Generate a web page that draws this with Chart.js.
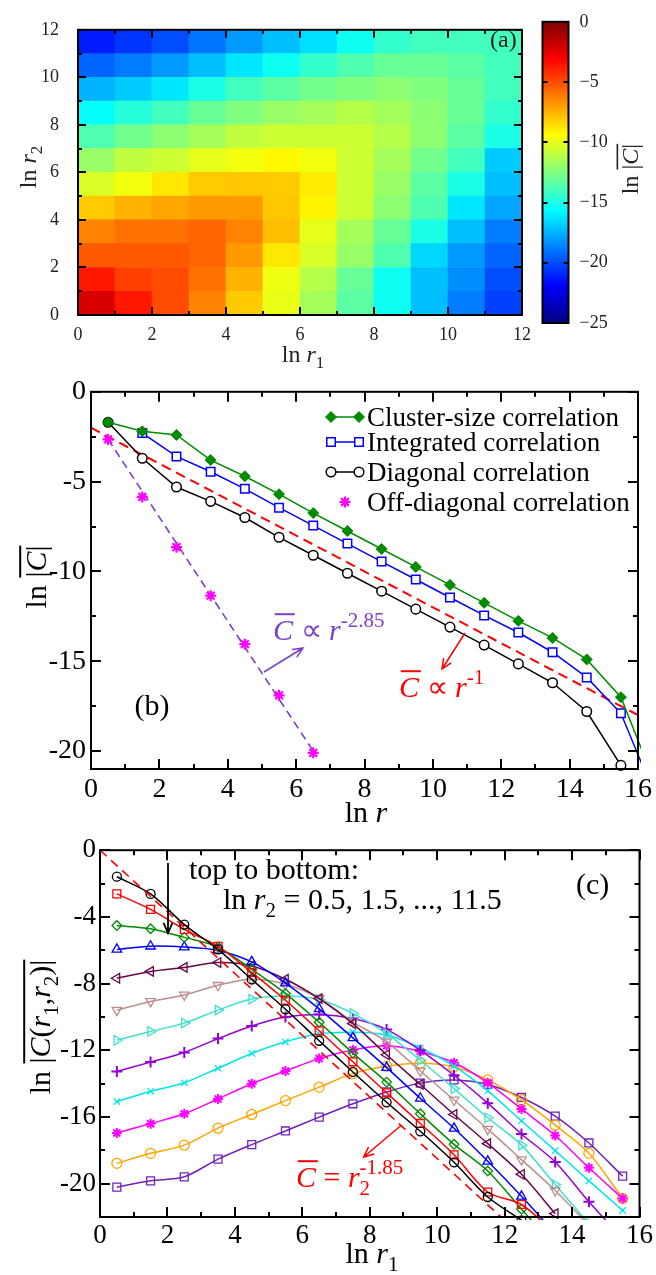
<!DOCTYPE html>
<html>
<head>
<meta charset="utf-8">
<script src="https://cdn.jsdelivr.net/npm/chart.js@4.4.1/dist/chart.umd.min.js"></script>
<style>
  body { margin: 0; background: #fff; }
  #wrap { position: relative; width: 656px; height: 1275px; overflow: hidden; }
  canvas { position: absolute; }
</style>
</head>
<body>
<div id="wrap">
  <canvas id="heatChart" width="540" height="370" style="left:0;top:0"></canvas>
  <canvas id="barChart" width="116" height="370" style="left:540px;top:0"></canvas>
  <canvas id="diagChart" width="656" height="460" style="left:0;top:370px"></canvas>
  <canvas id="pairChart" width="656" height="445" style="left:0;top:830px"></canvas>
</div>
<script>
// ---------------- data ----------------

// (a) ln|C| on a 12x12 grid, row k = ln r2 in [k,k+1], column j = ln r1 in [j,j+1]
const heatTicks = [0, 2, 4, 6, 8, 10, 12];
const colorbarTicks = [0, -5, -10, -15, -20, -25];
const cMin = -25, cMax = 0;
const heatRows = [
  [-2.2, -3.7, -5.0, -6.3, -8.1, -9.9, -11.6, -13.4, -15.3, -17.2, -18.8, -20.3],
  [-3.7, -4.7, -5.0, -5.9, -7.5, -9.8, -11.2, -13.1, -15.3, -17.2, -18.4, -20.0],
  [-5.3, -5.3, -5.3, -5.6, -6.9, -8.8, -10.3, -11.9, -13.7, -16.6, -18.1, -19.4],
  [-6.3, -5.9, -5.9, -5.6, -6.3, -7.8, -10.0, -11.6, -13.1, -15.0, -17.2, -18.8],
  [-8.1, -7.5, -7.2, -6.9, -6.9, -8.0, -9.1, -10.6, -12.2, -13.7, -16.2, -17.8],
  [-10.3, -9.7, -8.8, -8.1, -8.0, -8.1, -8.9, -10.6, -11.9, -13.4, -15.0, -17.2],
  [-11.9, -10.9, -10.6, -10.0, -9.7, -9.2, -9.7, -10.6, -11.6, -12.8, -14.0, -16.9],
  [-13.7, -12.8, -12.2, -11.6, -10.9, -10.6, -10.6, -10.6, -11.2, -12.2, -13.4, -15.0],
  [-15.5, -14.7, -14.0, -13.1, -12.5, -11.9, -11.6, -11.2, -11.6, -12.2, -13.1, -14.4],
  [-17.5, -16.9, -16.2, -15.0, -14.0, -13.4, -12.8, -12.5, -12.2, -12.5, -13.1, -14.0],
  [-19.4, -18.8, -18.1, -17.2, -16.2, -15.3, -14.4, -13.7, -13.1, -13.1, -13.4, -14.0],
  [-21.2, -20.6, -20.0, -19.0, -18.1, -17.2, -16.4, -15.3, -14.4, -14.0, -14.0, -14.0]
];

// (b) ln C versus ln r
const lnR = [0.5, 1.5, 2.5, 3.5, 4.5, 5.5, 6.5, 7.5, 8.5, 9.5, 10.5, 11.5, 12.5, 13.5, 14.5, 15.5, 16.5];
const clusterSize = [-1.7, -2.2, -2.4, -3.8, -4.7, -5.7, -6.75, -7.75, -8.75, -9.75, -10.75, -11.75, -12.75, -13.7, -14.9, -17.0, -21.8];
const integrated = [null, -2.3, -3.6, -4.45, -5.4, -6.45, -7.45, -8.45, -9.45, -10.45, -11.45, -12.45, -13.4, -14.5, -15.9, -17.9, -22.5];
const diagonal = [-1.7, -3.7, -5.3, -6.1, -7.0, -8.1, -9.1, -10.1, -11.1, -12.1, -13.1, -14.1, -15.15, -16.2, -17.8, -20.8, null];
const offDiagR = [0.5, 1.5, 2.5, 3.5, 4.5, 5.5, 6.5];
const offDiagonal = [-2.65, -5.85, -8.65, -11.35, -14.05, -16.9, -20.1];
const fitR1 = [0, 16];
const fitC1 = [-2.0, -18.0];
const fitR285 = [0.5, 6.5];
const fitC285 = [-2.65, -20.0];
const bTicksX = [0, 2, 4, 6, 8, 10, 12, 14, 16];
const bTicksY = [0, -5, -10, -15, -20];

// (c) ln C(r1,r2) versus ln r1, one curve per ln r2
const lnR1 = [0.5, 1.5, 2.5, 3.5, 4.5, 5.5, 6.5, 7.5, 8.5, 9.5, 10.5, 11.5, 12.5, 13.5, 14.5, 15.5];
const r2_05  = [-1.59, -2.62, -4.46, -5.95, -7.75, -9.54, -11.43, -13.3, -15.12, -16.86, -18.72, -20.8, -22.2];
const r2_15  = [-2.62, -3.55, -4.75, -5.77, -7.33, -9.0, -10.83, -12.69, -14.55, -16.39, -18.27, -20.5, -21.25, -23.0];
const r2_25  = [-4.52, -4.71, -5.23, -5.81, -7.15, -8.6, -10.32, -12.17, -13.91, -15.81, -17.64, -19.24, -21.53, -23.8];
const r2_35  = [-5.95, -5.76, -5.81, -6.01, -6.7, -7.97, -9.52, -11.26, -13.04, -14.88, -16.68, -18.66, -20.76, -23.0];
const r2_45  = [-7.68, -7.27, -7.03, -6.74, -6.94, -7.74, -8.9, -10.4, -12.27, -14.05, -15.85, -17.6, -19.44, -21.8];
const r2_55  = [-9.59, -9.07, -8.68, -8.10, -7.74, -8.04, -8.88, -10.3, -11.49, -13.24, -14.98, -16.73, -18.56, -20.41, -22.5];
const r2_65  = [-11.40, -10.87, -10.37, -9.59, -8.93, -8.74, -8.95, -9.79, -11.0, -12.6, -14.30, -16.05, -17.69, -20.06, -22.4];
const r2_75  = [-13.27, -12.71, -12.13, -11.30, -10.54, -10.0, -9.85, -10.1, -10.76, -12.0, -13.5, -15.17, -17.02, -18.70, -21.09, -23.3];
const r2_85  = [-15.08, -14.46, -13.95, -13.08, -12.19, -11.49, -11.01, -10.92, -11.08, -11.85, -12.95, -14.44, -16.24, -18.02, -19.83, -21.61];
const r2_95  = [-16.96, -16.40, -15.81, -14.92, -14.01, -13.24, -12.50, -11.98, -11.73, -12.07, -12.75, -13.95, -15.52, -17.11, -19.05, -20.89];
const r2_105 = [-18.78, -18.18, -17.69, -16.67, -15.85, -15.02, -14.21, -13.4, -12.96, -12.78, -13.0, -13.78, -14.98, -16.49, -18.18, -20.89];
const r2_115 = [-20.21, -19.83, -19.59, -18.53, -17.66, -16.84, -16.01, -15.21, -14.50, -13.97, -13.78, -14.05, -14.83, -15.95, -17.56, -19.55];
const fitRc = [0, 12.2];
const fitCc = [0, -22.57];
const cTicksX = [0, 2, 4, 6, 8, 10, 12, 14, 16];
const cTicksY = [0, -4, -8, -12, -16, -20];

// ---------------- helpers ----------------
const SERIF = '"Liberation Serif", "Times New Roman", serif';

function jetColor(v) {
  const t = (v - cMin) / (cMax - cMin);
  const f = c => Math.round(255 * Math.max(0, Math.min(1, 1.5 - Math.abs(4 * t - c))));
  return `rgb(${f(3)},${f(2)},${f(1)})`;
}

function xy(xs, ys) {
  const out = [];
  ys.forEach((y, i) => { if (y !== null && y !== undefined) out.push({ x: xs[i], y: y }); });
  return out;
}

// parts: {t, i: italic, b: subscript, p: superscript, o: overline, k: don't advance (stack sub/sup)}
function richText(ctx, parts, x, y, size, opts) {
  opts = opts || {};
  const fontOf = p => `${p.i ? 'italic ' : ''}${(p.b || p.p) ? Math.round(size * 0.7) : size}px ${SERIF}`;
  ctx.save();
  ctx.translate(x, y);
  if (opts.rotate) ctx.rotate(opts.rotate);
  ctx.fillStyle = ctx.strokeStyle = opts.color || '#000';
  ctx.textBaseline = 'alphabetic';
  ctx.textAlign = 'left';
  const widths = parts.map(p => { ctx.font = fontOf(p); return ctx.measureText(p.t).width; });
  const total = parts.reduce((s, p, i) => s + (p.k ? 0 : widths[i]), 0);
  let cx = opts.align === 'left' ? 0 : -total / 2;
  let olStart = null, olEnd = null;
  parts.forEach((p, i) => {
    ctx.font = fontOf(p);
    const dy = p.b ? size * 0.25 : (p.p ? -size * 0.42 : 0);
    ctx.fillText(p.t, cx, dy);
    if (p.o) {
      const shift = p.i ? size * 0.06 : 0;
      if (olStart === null) olStart = cx + shift;
      olEnd = cx + widths[i] + shift;
    }
    if (!p.k) cx += widths[i];
  });
  if (olStart !== null) {
    ctx.lineWidth = Math.max(1, size / 15);
    ctx.beginPath();
    ctx.moveTo(olStart, -size * 0.86);
    ctx.lineTo(olEnd, -size * 0.86);
    ctx.stroke();
  }
  ctx.restore();
}

function arrow(ctx, x1, y1, x2, y2, color, lw) {
  const a = Math.atan2(y2 - y1, x2 - x1), h = 11, s = 0.42;
  ctx.save();
  ctx.strokeStyle = color;
  ctx.lineWidth = lw;
  ctx.beginPath();
  ctx.moveTo(x1, y1); ctx.lineTo(x2, y2);
  ctx.moveTo(x2 - h * Math.cos(a - s), y2 - h * Math.sin(a - s));
  ctx.lineTo(x2, y2);
  ctx.lineTo(x2 - h * Math.cos(a + s), y2 - h * Math.sin(a + s));
  ctx.stroke();
  ctx.restore();
}

function fixTicks(list) {
  return scale => { scale.ticks = list.map(v => ({ value: v })); };
}

// inward ticks on all four sides + frame
const framePlugin = {
  id: 'frame',
  afterDatasetsDraw(chart, args, o) {
    if (!o || !o.show) return;
    const { ctx, chartArea: a } = chart;
    const x = chart.scales.x, y = chart.scales.y;
    ctx.save();
    ctx.strokeStyle = '#000';
    ctx.lineWidth = o.width;
    const isMajor = (v, m) => Math.abs(v / m - Math.round(v / m)) < 1e-6;
    ctx.beginPath();
    for (let v = Math.ceil(x.min / o.xMinor) * o.xMinor; v <= x.max + 1e-9; v += o.xMinor) {
      const len = isMajor(v, o.xMajor) ? o.major : o.minor;
      const px = Math.round(x.getPixelForValue(v));
      ctx.moveTo(px, a.bottom); ctx.lineTo(px, a.bottom - len);
      ctx.moveTo(px, a.top); ctx.lineTo(px, a.top + len);
    }
    for (let v = Math.ceil(y.min / o.yMinor) * o.yMinor; v <= y.max + 1e-9; v += o.yMinor) {
      const len = isMajor(v, o.yMajor) ? o.major : o.minor;
      const py = Math.round(y.getPixelForValue(v));
      ctx.moveTo(a.left, py); ctx.lineTo(a.left + len, py);
      ctx.moveTo(a.right, py); ctx.lineTo(a.right - len, py);
    }
    ctx.stroke();
    ctx.strokeRect(a.left, a.top, a.width, a.height);
    ctx.restore();
  }
};

const base = {
  responsive: false,
  animation: false,
  devicePixelRatio: 1,
  events: []
};

// ---------------- (a) heat map ----------------
const heatDatasets = heatRows.map((row, k) => ({
  data: row.map((v, j) => ({ x: j + 0.5, y: [k, k + 1] })),
  backgroundColor: row.map(jetColor),
  borderWidth: 0,
  grouped: false,
  barPercentage: 1,
  categoryPercentage: 1
}));

new Chart(document.getElementById('heatChart'), {
  type: 'bar',
  data: { datasets: heatDatasets },
  plugins: [framePlugin, {
    id: 'notesA',
    afterDraw(chart) {
      const ctx = chart.ctx;
      richText(ctx, [{ t: 'ln ' }, { t: 'r', i: 1 }, { t: '1', b: 1 }], 303, 362, 24, { color: '#222' });
      richText(ctx, [{ t: 'ln ' }, { t: 'r', i: 1 }, { t: '2', b: 1 }], 36, 167, 24, { color: '#222', rotate: -Math.PI / 2 });
      richText(ctx, [{ t: '(a)' }], 490, 47, 24, { color: '#222', align: 'left' });
    }
  }],
  options: Object.assign({}, base, {
    layout: { padding: { left: 0, top: 15, right: 10, bottom: 0 } },
    plugins: {
      legend: { display: false }, tooltip: { enabled: false },
      frame: { show: true, xMajor: 2, xMinor: 1, yMajor: 2, yMinor: 1, major: 8, minor: 4, width: 2 }
    },
    scales: {
      x: {
        type: 'linear', min: 0, max: 12, offset: false,
        afterFit: s => { s.height = 55; },
        afterBuildTicks: fixTicks(heatTicks),
        grid: { display: false, drawTicks: false }, border: { display: false },
        ticks: { font: { family: SERIF, size: 18 }, color: '#222', padding: 9, maxRotation: 0, autoSkip: false }
      },
      y: {
        type: 'linear', min: 0, max: 12,
        afterFit: s => { s.width = 78; },
        afterBuildTicks: fixTicks(heatTicks),
        grid: { display: false, drawTicks: false }, border: { display: false },
        ticks: { font: { family: SERIF, size: 18 }, color: '#222', padding: 19 }
      }
    }
  })
});

// colour bar
new Chart(document.getElementById('barChart'), {
  type: 'bar',
  data: { datasets: [] },
  plugins: [{
    id: 'cbar',
    beforeDatasetsDraw(chart) {
      const { ctx, chartArea: a } = chart;
      const g = ctx.createLinearGradient(0, a.bottom, 0, a.top);
      for (let i = 0; i <= 40; i++) g.addColorStop(i / 40, jetColor(cMin + (cMax - cMin) * i / 40));
      ctx.fillStyle = g;
      ctx.fillRect(a.left, a.top, a.width, a.height);
      const y = chart.scales.y;
      ctx.save();
      ctx.strokeStyle = '#000';
      ctx.lineWidth = 2;
      ctx.beginPath();
      colorbarTicks.forEach(v => {
        const py = Math.round(y.getPixelForValue(v));
        ctx.moveTo(a.left, py); ctx.lineTo(a.left + 5, py);
        ctx.moveTo(a.right, py); ctx.lineTo(a.right - 5, py);
      });
      ctx.stroke();
      ctx.strokeRect(a.left, a.top, a.width, a.height);
      ctx.restore();
      richText(ctx, [{ t: 'ln ' }, { t: '|', o: 1 }, { t: 'C', i: 1, o: 1 }, { t: '|', o: 1 }], 98, 169, 24, { color: '#222', rotate: -Math.PI / 2 });
    }
  }],
  options: Object.assign({}, base, {
    layout: { padding: { left: 2.5, top: 15, right: 0, bottom: 47 } },
    plugins: { legend: { display: false }, tooltip: { enabled: false } },
    scales: {
      x: { type: 'linear', display: false, min: 0, max: 1 },
      y: {
        type: 'linear', position: 'right', min: cMin, max: cMax,
        afterFit: s => { s.width = 87.5; },
        afterBuildTicks: fixTicks(colorbarTicks),
        grid: { display: false, drawTicks: false }, border: { display: false },
        ticks: { font: { family: SERIF, size: 18 }, color: '#222', padding: 11, callback: v => String(v).replace('-', '\u2212') }
      }
    }
  })
});

// ---------------- (b) ----------------
const GREEN = '#008b00', BLUE = '#0000ff', MAGENTA = '#ff00ff', PURPLE = '#7b3fd0', RED = '#ff0000';
const diagDatasets = [
  { label: 'Cluster-size correlation', data: xy(lnR, clusterSize), borderColor: GREEN, backgroundColor: GREEN,
    pointBackgroundColor: GREEN, pointStyle: 'rectRot', pointRadius: 5.5, borderWidth: 1.5, pointBorderWidth: 1 },
  { label: 'Integrated correlation', data: xy(lnR, integrated), borderColor: BLUE, backgroundColor: BLUE,
    pointBackgroundColor: '#fff', pointStyle: 'rect', pointRadius: 6, borderWidth: 1.5, pointBorderWidth: 1.5 },
  { label: 'Diagonal correlation', data: xy(lnR, diagonal), borderColor: '#000', backgroundColor: '#000',
    pointBackgroundColor: '#fff', pointStyle: 'circle', pointRadius: 4.8, borderWidth: 1.5, pointBorderWidth: 1.5 },
  { label: 'Off-diagonal correlation', data: xy(offDiagR, offDiagonal), borderColor: MAGENTA, backgroundColor: MAGENTA,
    pointStyle: 'star', pointRadius: 5.5, showLine: false, pointBorderWidth: 2.2 },
  { label: 'fit1', data: xy(fitR1, fitC1), borderColor: RED, borderWidth: 2, borderDash: [10, 6], pointRadius: 0 },
  { label: 'fit285', data: xy(fitR285, fitC285), borderColor: PURPLE, borderWidth: 1.6, borderDash: [8, 5], pointRadius: 0 }
];
diagDatasets.forEach(d => { d.tension = 0; d.clip = 3; d.fill = false; });

new Chart(document.getElementById('diagChart'), {
  type: 'line',
  data: { datasets: diagDatasets },
  plugins: [framePlugin, {
    id: 'notesB',
    afterDraw(chart) {
      const ctx = chart.ctx;
      const helpers = Chart.helpers;
      const rows = [47, 72, 102, 132];
      [0, 1, 2, 3].forEach((di, r) => {
        const d = diagDatasets[di];
        const yy = rows[r];
        ctx.save();
        ctx.strokeStyle = d.borderColor;
        ctx.fillStyle = d.pointBackgroundColor || d.borderColor;
        const po = { pointStyle: d.pointStyle, radius: d.pointRadius, rotation: 0, borderWidth: d.pointBorderWidth };
        if (d.showLine === false) {
          ctx.lineWidth = d.pointBorderWidth;
          helpers.drawPoint(ctx, po, 345, yy);
        } else {
          ctx.lineWidth = d.borderWidth;
          ctx.beginPath(); ctx.moveTo(331, yy); ctx.lineTo(359, yy); ctx.stroke();
          ctx.lineWidth = d.pointBorderWidth;
          helpers.drawPoint(ctx, po, 331, yy);
          helpers.drawPoint(ctx, po, 359, yy);
        }
        ctx.restore();
        richText(ctx, [{ t: d.label }], 367, yy + 9, 27, { align: 'left' });
      });
      richText(ctx, [{ t: '(b)' }], 152, 345, 30);
      richText(ctx, [{ t: 'C', i: 1, o: 1 }, { t: ' \u221D ' }, { t: 'r', i: 1 }, { t: '-2.85', p: 1 }], 273, 270, 30, { color: PURPLE, align: 'left' });
      arrow(ctx, 264, 302, 303, 278, PURPLE, 1.5);
      richText(ctx, [{ t: 'C', i: 1, o: 1 }, { t: ' \u221D ' }, { t: 'r', i: 1 }, { t: '-1', p: 1 }], 399, 327, 30, { color: RED, align: 'left' });
      arrow(ctx, 465, 263, 442, 299, RED, 1.5);
      richText(ctx, [{ t: 'ln ' }, { t: 'r', i: 1 }], 366, 452, 30);
      richText(ctx, [{ t: 'ln ' }, { t: '|', o: 1 }, { t: 'C', i: 1, o: 1 }, { t: '|', o: 1 }], 46, 207, 30, { rotate: -Math.PI / 2 });
    }
  }],
  options: Object.assign({}, base, {
    layout: { padding: { left: 0, top: 15, right: 14, bottom: 0 } },
    plugins: {
      legend: { display: false }, tooltip: { enabled: false },
      frame: { show: true, xMajor: 2, xMinor: 1, yMajor: 5, yMinor: 2.5, major: 10, minor: 5, width: 2 }
    },
    scales: {
      x: {
        type: 'linear', min: 0, max: 16,
        afterFit: s => { s.height = 61; },
        afterBuildTicks: fixTicks(bTicksX),
        grid: { display: false, drawTicks: false }, border: { display: false },
        ticks: { font: { family: SERIF, size: 28 }, color: '#000', padding: 4, maxRotation: 0, autoSkip: false }
      },
      y: {
        type: 'linear', min: -21, max: 0,
        afterFit: s => { s.width = 91; },
        afterBuildTicks: fixTicks(bTicksY),
        grid: { display: false, drawTicks: false }, border: { display: false },
        ticks: { font: { family: SERIF, size: 28 }, color: '#000', padding: 5 }
      }
    }
  })
});

// ---------------- (c) ----------------
const pairSeries = [r2_05, r2_15, r2_25, r2_35, r2_45, r2_55, r2_65, r2_75, r2_85, r2_95, r2_105, r2_115];
const pairLabels = ['0.5', '1.5', '2.5', '3.5', '4.5', '5.5', '6.5', '7.5', '8.5', '9.5', '10.5', '11.5'];
const pairStyles = [
  { color: '#000000', shape: 'circle', rot: 0, r: 4.5 },
  { color: '#ff0000', shape: 'rect', rot: 0, r: 5.6 },
  { color: '#008b00', shape: 'rectRot', rot: 0, r: 4.8 },
  { color: '#0000ff', shape: 'triangle', rot: 0, r: 5.5 },
  { color: '#67074a', shape: 'triangle', rot: 270, r: 5.5 },
  { color: '#bc8f8f', shape: 'triangle', rot: 180, r: 5.5 },
  { color: '#40e0d0', shape: 'triangle', rot: 90, r: 5.5 },
  { color: '#9400d3', shape: 'cross', rot: 0, r: 5.5 },
  { color: '#00e5ee', shape: 'crossRot', rot: 0, r: 4.5 },
  { color: '#ff00ff', shape: 'star', rot: 0, r: 5 },
  { color: '#ffa500', shape: 'circle', rot: 0, r: 5 },
  { color: '#7221bc', shape: 'rect', rot: 0, r: 5.6 }
];
const pairDatasets = pairSeries.map((s, i) => ({
  label: 'ln r2 = ' + pairLabels[i],
  data: xy(lnR1, s),
  borderColor: pairStyles[i].color,
  pointBorderColor: pairStyles[i].color,
  pointBackgroundColor: 'rgba(0,0,0,0)',
  pointStyle: pairStyles[i].shape,
  pointRotation: pairStyles[i].rot,
  pointRadius: pairStyles[i].r,
  pointBorderWidth: (pairStyles[i].shape === 'cross' || pairStyles[i].shape === 'star') ? 2 : 1.3,
  borderWidth: 1.5,
  tension: 0.3,
  clip: 3,
  fill: false
}));
pairDatasets.unshift({
  label: 'fit', data: xy(fitRc, fitCc), borderColor: RED, borderWidth: 1.6,
  borderDash: [9, 6], pointRadius: 0, tension: 0, clip: 0, fill: false
});

new Chart(document.getElementById('pairChart'), {
  type: 'line',
  data: { datasets: pairDatasets },
  plugins: [framePlugin, {
    id: 'notesC',
    afterDraw(chart) {
      const ctx = chart.ctx;
      richText(ctx, [{ t: 'top to bottom:' }], 189, 49, 30, { align: 'left' });
      richText(ctx, [{ t: 'ln ' }, { t: 'r', i: 1 }, { t: '2', b: 1 }, { t: ' = 0.5, 1.5, ..., 11.5' }], 223, 79, 30, { align: 'left' });
      richText(ctx, [{ t: '(c)' }], 576, 64, 30, { align: 'left' });
      arrow(ctx, 168, 33, 168, 103, '#000', 1.8);
      richText(ctx, [{ t: 'C', i: 1, o: 1 }, { t: ' = ' }, { t: 'r', i: 1 }, { t: '2', b: 1, k: 1 }, { t: '-1.85', p: 1 }], 296, 357, 30, { color: RED, align: 'left' });
      arrow(ctx, 401.6, 295, 363.7, 327, RED, 1.5);
      richText(ctx, [{ t: 'ln ' }, { t: 'r', i: 1 }, { t: '1', b: 1 }], 372, 433, 30);
      richText(ctx, [{ t: 'ln ' }, { t: '|', o: 1 }, { t: 'C', i: 1, o: 1 }, { t: '(', o: 1 }, { t: 'r', i: 1, o: 1 }, { t: '1', b: 1, o: 1 },
        { t: ',', o: 1 }, { t: 'r', i: 1, o: 1 }, { t: '2', b: 1, o: 1 }, { t: ')', o: 1 }, { t: '|', o: 1 }], 50, 197, 30, { rotate: -Math.PI / 2 });
    }
  }],
  options: Object.assign({}, base, {
    layout: { padding: { left: 0, top: 9, right: 14, bottom: 0 } },
    plugins: {
      legend: { display: false }, tooltip: { enabled: false },
      frame: { show: true, xMajor: 2, xMinor: 1, yMajor: 4, yMinor: 2, major: 10, minor: 5, width: 2 }
    },
    scales: {
      x: {
        type: 'linear', min: 0, max: 16,
        afterFit: s => { s.height = 58; },
        afterBuildTicks: fixTicks(cTicksX),
        grid: { display: false, drawTicks: false }, border: { display: false },
        ticks: { font: { family: SERIF, size: 27 }, color: '#000', padding: 3, maxRotation: 0, autoSkip: false }
      },
      y: {
        type: 'linear', min: -22, max: 0,
        afterFit: s => { s.width = 100; },
        afterBuildTicks: fixTicks(cTicksY),
        grid: { display: false, drawTicks: false }, border: { display: false },
        ticks: { font: { family: SERIF, size: 27 }, color: '#000', padding: 4 }
      }
    }
  })
});
</script>
</body>
</html>
